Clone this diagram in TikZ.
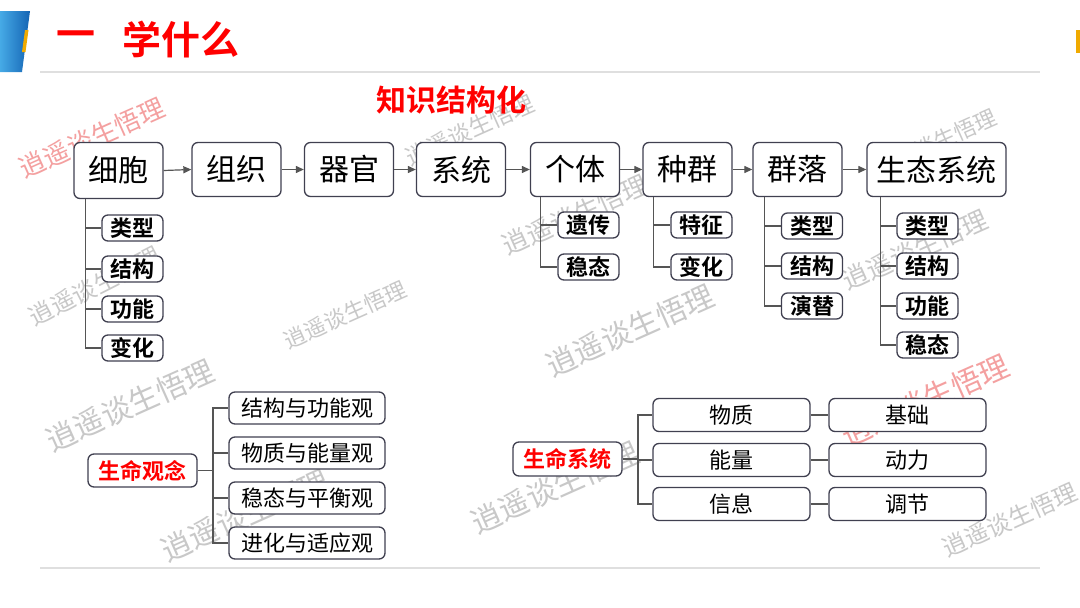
\documentclass[tikz,border=0pt]{standalone}
\usepackage{fontspec}
\setmainfont{Noto Sans CJK SC}[BoldFont={Noto Sans CJK SC Bold}]
\usetikzlibrary{arrows.meta}
\definecolor{bx}{RGB}{64,64,80}
\definecolor{ln}{RGB}{85,85,85}
\definecolor{tred}{RGB}{255,0,0}
\definecolor{wmg}{RGB}{200,200,200}
\definecolor{wmr}{RGB}{244,160,160}
\definecolor{blueL}{RGB}{70,170,230}
\definecolor{blueD}{RGB}{20,100,180}
\definecolor{ylw}{RGB}{240,170,0}
\tikzset{
  base/.style={draw=bx, line width=1.3pt, rounded corners=6pt, fill=white, inner sep=0pt},
  mainbox/.style={base, minimum height=54pt, minimum width=89pt, font=\fontsize{30}{30}\selectfont},
  subbox/.style={base, minimum height=26pt, minimum width=61pt, font=\fontsize{22}{22}\selectfont\bfseries},
  bigbox/.style={base, minimum height=32pt, minimum width=156pt, font=\fontsize{22}{22}\selectfont},
  redbox/.style={base, minimum height=33pt, minimum width=109pt, text=tred, font=\fontsize{22}{22}\selectfont\bfseries},
  conn/.style={draw=ln, line width=1.2pt},
  arr/.style={conn, -{Triangle[length=8pt,width=7pt]}},
  wm/.style={rotate=24, font=\fontsize{26}{26}\selectfont, inner sep=0pt},
}
\begin{document}
\begin{tikzpicture}[x=1pt,y=-1pt]
\useasboundingbox (0,0) rectangle (1080,608);
\fill[white] (0,0) rectangle (1080,608);

% watermarks (behind everything)
\node[wm, text=wmr] (w1) at (92,138) {逍遥谈生悟理};
\node[wm, text=wmg, font=\fontsize{23}{23}\selectfont] (w2) at (470,130) {逍遥谈生悟理};
\node[wm, text=wmg, font=\fontsize{22}{22}\selectfont] (w3) at (935,143) {逍遥谈生悟理};
\node[wm, text=wmg, font=\fontsize{24}{24}\selectfont, rotate=3] (w4) at (95,286) {逍遥谈生悟理};
\node[wm, text=wmg, font=\fontsize{22}{22}\selectfont] (w5) at (345,315) {逍遥谈生悟理};
\node[wm, text=wmg] (w6) at (575,215) {逍遥谈生悟理};
\node[wm, text=wmg, font=\fontsize{30}{30}\selectfont] (w7) at (630,330) {逍遥谈生悟理};
\node[wm, text=wmg] (w8) at (915,250) {逍遥谈生悟理};
\node[wm, text=wmg, font=\fontsize{30}{30}\selectfont] (w9) at (130,405) {逍遥谈生悟理};
\node[wm, text=wmg, font=\fontsize{30}{30}\selectfont] (w10) at (245,515) {逍遥谈生悟理};
\node[wm, text=wmg, font=\fontsize{30}{30}\selectfont] (w11) at (555,487) {逍遥谈生悟理};
\node[wm, text=wmr, font=\fontsize{30}{30}\selectfont] (w12) at (925,400) {逍遥谈生悟理};
\node[wm, text=wmg, font=\fontsize{24}{24}\selectfont] (w13) at (1010,520) {逍遥谈生悟理};

% header decoration
\shade[left color=blueL, right color=blueD] (0,11) -- (30,11) -- (22,72) -- (0,72) -- cycle;
\fill[ylw] (25,30) -- (28.5,30) -- (25.5,52) -- (22,52) -- cycle;
\fill[ylw] (1076,30) rectangle (1080,53);
\draw[gray!25, line width=2pt] (40,72) -- (1040,72);
\draw[gray!25, line width=2pt] (40,568) -- (1040,568);
\node[text=tred, font=\fontsize{39}{39}\selectfont\bfseries] (t1) at (76,40) {一};
\node[text=tred, font=\fontsize{39}{39}\selectfont\bfseries] (t2) at (181,40) {学什么};
\node[text=tred, font=\fontsize{30}{30}\selectfont\bfseries] (kt) at (451,100) {知识结构化};

% main row
\node[mainbox, minimum height=56pt] (c1) at (118.5,170.5) {细胞};
\node[mainbox] (c2) at (236.5,169.5) {组织};
\node[mainbox] (c3) at (349,169.5) {器官};
\node[mainbox] (c4) at (461,169.5) {系统};
\node[mainbox] (c5) at (575,169.5) {个体};
\node[mainbox] (c6) at (687.5,169.5) {种群};
\node[mainbox] (c7) at (797.5,169.5) {群落};
\node[mainbox, minimum width=139pt] (c8) at (936.5,169.5) {生态系统};
\foreach \a/\b in {c1/c2,c2/c3,c3/c4,c4/c5,c5/c6,c6/c7,c7/c8}
  \draw[arr] (\a.east) -- (\b.west);

% sub item connectors (drawn before the boxes)
\coordinate (k1) at ([xshift=12pt]c1.south west);
\coordinate (k5) at ([xshift=11pt]c5.south west);
\coordinate (k6) at ([xshift=11pt]c6.south west);
\coordinate (k7) at ([xshift=12pt]c7.south west);
\coordinate (k8) at ([xshift=14pt]c8.south west);

% sub items
\node[subbox] (s11) at (132.5,228) {类型};
\node[subbox] (s12) at (132.5,269) {结构};
\node[subbox] (s13) at (132.5,309) {功能};
\node[subbox] (s14) at (132.5,348) {变化};
\node[subbox] (s51) at (588.5,225) {遗传};
\node[subbox] (s52) at (588.5,267) {稳态};
\node[subbox] (s61) at (701.5,225) {特征};
\node[subbox] (s62) at (701.5,267) {变化};
\node[subbox] (s71) at (812,226) {类型};
\node[subbox] (s72) at (812,266) {结构};
\node[subbox] (s73) at (812,306) {演替};
\node[subbox] (s81) at (927.5,226) {类型};
\node[subbox] (s82) at (927.5,266) {结构};
\node[subbox] (s83) at (927.5,306) {功能};
\node[subbox] (s84) at (927.5,345) {稳态};
\foreach \s in {s11,s12,s13,s14} \draw[conn] (k1) |- (\s.west);
\foreach \s in {s51,s52} \draw[conn] (k5) |- (\s.west);
\foreach \s in {s61,s62} \draw[conn] (k6) |- (\s.west);
\foreach \s in {s71,s72,s73} \draw[conn] (k7) |- (\s.west);
\foreach \s in {s81,s82,s83,s84} \draw[conn] (k8) |- (\s.west);

% life concepts
\node[redbox] (g1) at (142.5,470.5) {生命观念};
\node[bigbox] (g11) at (307,408) {结构与功能观};
\node[bigbox] (g12) at (307,453) {物质与能量观};
\node[bigbox] (g13) at (307,498) {稳态与平衡观};
\node[bigbox] (g14) at (307,543) {进化与适应观};
\coordinate (j1) at (213,470.5);
\draw[conn] (g1.east) -- (j1);
\foreach \s in {g11,g12,g13,g14} \draw[conn] (j1) |- (\s.west);

% life system
\node[redbox, minimum height=34pt] (g2) at (567.5,459) {生命系统};
\node[bigbox, minimum width=157pt, minimum height=33pt] (g21) at (731.5,415) {物质};
\node[bigbox, minimum width=157pt, minimum height=33pt] (g22) at (731.5,460) {能量};
\node[bigbox, minimum width=157pt, minimum height=33pt] (g23) at (731.5,504) {信息};
\node[bigbox, minimum width=157pt, minimum height=33pt] (h21) at (907.5,415) {基础};
\node[bigbox, minimum width=157pt, minimum height=33pt] (h22) at (907.5,460) {动力};
\node[bigbox, minimum width=157pt, minimum height=33pt] (h23) at (907.5,504) {调节};
\coordinate (j2) at (638,459);
\draw[conn] (g2.east) -- (j2);
\foreach \s in {g21,g22,g23} \draw[conn] (j2) |- (\s.west);
\draw[conn] (g21.east) -- (h21.west);
\draw[conn] (g22.east) -- (h22.west);
\draw[conn] (g23.east) -- (h23.west);
\end{tikzpicture}
\end{document}
